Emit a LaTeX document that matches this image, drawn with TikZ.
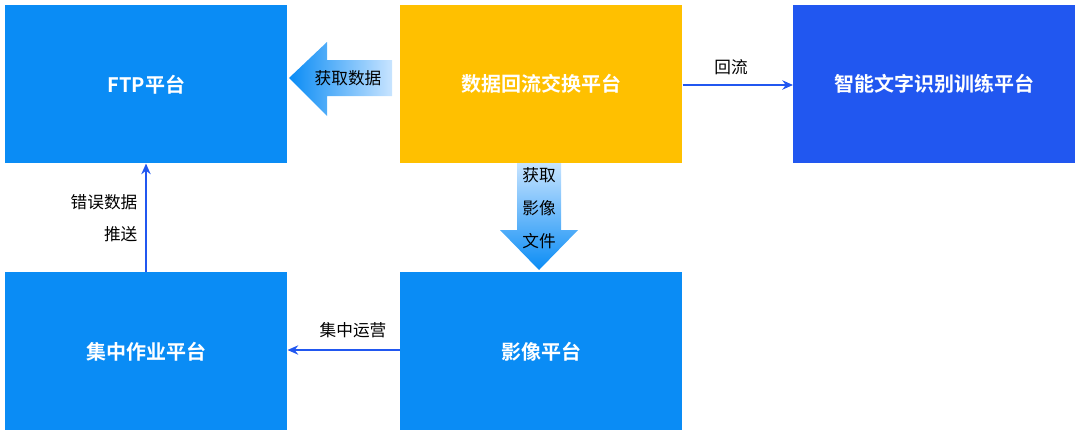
\documentclass[tikz,border=0pt]{standalone}
\usepackage{fontspec}
\setmainfont{Noto Sans CJK SC}
\newfontfamily\cjkb{Noto Sans CJK SC Bold}
\usetikzlibrary{arrows.meta}
\definecolor{bblue}{RGB}{10,140,245}
\definecolor{dblue}{RGB}{33,87,240}
\definecolor{byellow}{RGB}{255,192,0}
\definecolor{lblue}{RGB}{200,228,255}
\tikzset{
  box/.style={minimum width=211.5pt,minimum height=118.5pt,inner sep=0pt,text=white,font=\cjkb\fontsize{15}{18}\selectfont},
  conn/.style={draw=dblue,line width=1.2pt,-{Stealth[length=8pt,width=7pt]}},
  lbl/.style={font=\fontsize{12.5}{16}\selectfont,text=black,inner sep=1pt}
}
\begin{document}
\begin{tikzpicture}[x=0.75pt,y=-0.75pt]
\useasboundingbox (0,0) rectangle (1080,436);
\node[box,fill=bblue,anchor=north west] (ftp) at (5,5) {FTP平台};
\node[box,fill=byellow,anchor=north west] (hl) at (400,5) {数据回流交换平台};
\node[box,fill=dblue,anchor=north west] (zn) at (793,5) {智能文字识别训练平台};
\node[box,fill=bblue,anchor=north west] (jz) at (5,272) {集中作业平台};
\node[box,fill=bblue,anchor=north west] (yx) at (400,272) {影像平台};
% big left arrow
\shade[left color=bblue,right color=lblue] (289,78) -- (327,42) -- (327,60) -- (392,60) -- (392,96) -- (327,96) -- (327,116) -- cycle;
\node[lbl] (t1) at (348,78) {获取数据};
% big down arrow
\shade[top color=lblue,bottom color=bblue] (517,163) -- (561,163) -- (561,230) -- (578,230) -- (539,270) -- (500,230) -- (517,230) -- cycle;
\node[lbl,align=center,font=\fontsize{12.5}{24.5}\selectfont] (t2) at (539,208) {获取\\影像\\文件};
\draw[conn] (hl.east|-0,85) -- (zn.west|-0,85);
\node[lbl] at (731,67) {回流};
\draw[conn] (yx.west|-0,350) -- (jz.east|-0,350);
\node[lbl] at (353,330) {集中运营};
\draw[conn] (jz.north-|146,0) -- (ftp.south-|146,0);
\node[lbl,align=right,anchor=east,font=\fontsize{12.5}{24.5}\selectfont] at (139,218) {错误数据\\推送};
\end{tikzpicture}
\end{document}
